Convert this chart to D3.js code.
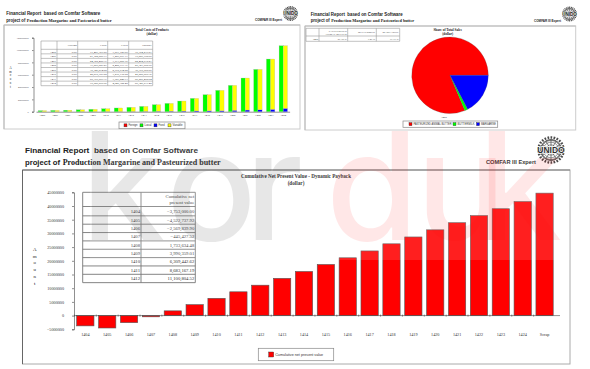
<!DOCTYPE html>
<html>
<head>
<meta charset="utf-8">
<title>Financial Report</title>
<script src="https://cdn.jsdelivr.net/npm/d3@7"></script>
<style>
    html, body { margin: 0; padding: 0; background: #fff; }
    svg { display: block; }
    .domain, .tick line { stroke: #444; stroke-width: 0.6; }
</style>
</head>
<body>
<svg id="page" width="590" height="369"></svg>
<script>
// total costs of products (dollar)
const costYears = ["1405","1406","1407","1408","1409","1410","1411","1412","1413","1414",
                   "1415","1416","1417","1418","1419","1420","1421","1422","1423","1424"];
const costForeign = costYears.map(() => 0);
const costLocal = [17487367.5, 21122889.17, 24368480.37, 31809827.27, 39146874.88, 48815787.88, 60376657.37, 70980899.96,
                   86000000, 114000000, 135000000, 173000000, 216000000, 276000000, 346000000, 427000000,
                   546000000, 686000000, 854000000, 1070000000];
const costFixed = [1093129.69, 1266091.17, 1913865.16, 2488771.37, 2775914.88, 3230718.52, 3787248.73, 4640382.48,
                   5500000, 7000000, 8500000, 10000000, 12000000, 14000000, 16000000, 22000000,
                   27000000, 32000000, 38000000, 54000000];
const costVariable = [16394237.81, 19856798, 22454615.21, 29321055.9, 36370960, 45585069.36, 56589408.64, 66340517.48,
                      80500000, 107000000, 126500000, 163000000, 204000000, 262000000, 330000000, 405000000,
                      519000000, 654000000, 816000000, 1016000000];
const costTicks = [0, 200000000, 400000000, 600000000, 800000000, 1000000000, 1200000000];
const costNames = ["Foreign", "Local", "Fixed", "Variable"];

// share of total sales
const saleNames = ["PASTEURIZED ANIMAL BUTTER", "BUTTERMILK", "MARGARINE"];
const saleShares = [81.36, 1.27, 17.37];

// cumulative net present value
const npvYears = ["1404","1405","1406","1407","1408","1409","1410","1411","1412","1413","1414",
                  "1415","1416","1417","1418","1419","1420","1421","1422","1423","1424","Scrap"];
const npvValues = [-3753000, -4522737.92, -2569839.9, -445427.52, 1733634.48, 3990359.01, 6309442.62, 8683167.19, 11100804.52,
                   13600000, 16100000, 18650000, 21100000, 23600000, 26200000, 28700000, 31300000, 33900000, 36500000,
                   39000000, 41600000, 44700000];
const npvTicks = [-5000000, 0, 5000000, 10000000, 15000000, 20000000, 25000000, 30000000, 35000000, 40000000, 45000000];

const ARIAL = "'Liberation Sans', Arial, sans-serif";
const TIMES = "'Liberation Serif', 'Times New Roman', serif";
const money = d3.format(",.2f");

const svg = d3.select("#page");

function label(g, x, y, str, size, opts) {
    opts = opts || {};
    return g.append("text")
        .attr("x", x).attr("y", y)
        .attr("font-family", opts.family || TIMES)
        .attr("font-size", size)
        .attr("font-weight", opts.bold ? "bold" : "normal")
        .attr("text-anchor", opts.anchor || "start")
        .attr("fill", opts.fill || "#222")
        .text(str);
}

function drawLogo(cx, cy, r) {
    let g = svg.append("g");
    let proj = d3.geoOrthographic().rotate([0, -90]).scale(r * 0.72).translate([cx, cy]);
    let path = d3.geoPath(proj);
    g.append("path").attr("d", path(d3.geoGraticule().step([30, 20])()))
        .attr("fill", "none").attr("stroke", "#333").attr("stroke-width", r * 0.05);
    g.append("circle").attr("cx", cx).attr("cy", cy).attr("r", r * 0.75)
        .attr("fill", "none").attr("stroke", "#333").attr("stroke-width", r * 0.06);
    // laurel wreath
    g.append("circle").attr("cx", cx).attr("cy", cy).attr("r", r * 0.9)
        .attr("fill", "none").attr("stroke", "#333").attr("stroke-width", r * 0.18)
        .attr("stroke-dasharray", `${r * 0.12} ${r * 0.1}`);
    label(g, cx, cy + r * 0.2, "UNIDO", r * 0.66, { family: ARIAL, bold: true, anchor: "middle", fill: "#111" })
        .attr("stroke", "#fff").attr("stroke-width", r * 0.1).attr("paint-order", "stroke")
        .attr("textLength", r * 1.95).attr("lengthAdjust", "spacingAndGlyphs");
}

function drawHeader(x, y1, y2, w1, w2a, w2b, size, cx, cy, r, expertWidth) {
    let g = svg.append("g");
    label(g, x, y1, "Financial Report  based on Comfar Software", size, { family: ARIAL, bold: true })
        .attr("xml:space", "preserve").attr("textLength", w1).attr("lengthAdjust", "spacingAndGlyphs");
    label(g, x, y2, "project of", size, { family: ARIAL, bold: true })
        .attr("textLength", w2a).attr("lengthAdjust", "spacingAndGlyphs");
    label(g, x + w2a + size * 0.33, y2, "Production Margarine and Pasteurized butter", size * 1.02, { bold: true })
        .attr("textLength", w2b).attr("lengthAdjust", "spacingAndGlyphs");
    label(g, cx - r - 1 - expertWidth, y2 - size * 0.12, "COMFAR III Expert", size * 0.72, { family: ARIAL, bold: true })
        .attr("textLength", expertWidth).attr("lengthAdjust", "spacingAndGlyphs");
    drawLogo(cx, cy, r);
}

function drawFrame(x, y, w, h, dark, light, width) {
    let g = svg.append("g");
    g.append("rect").attr("x", x).attr("y", y).attr("width", w).attr("height", h)
        .attr("fill", "#fff").attr("stroke", light).attr("stroke-width", width);
    g.append("path").attr("d", `M${x},${y + h}V${y}H${x + w}`)
        .attr("fill", "none").attr("stroke", dark).attr("stroke-width", width);
}

// small ruled table, columns and rows given as edge positions
function drawTable(xEdges, yEdges, rows, size, stroke, width) {
    let g = svg.append("g");
    g.selectAll("line.h").data(yEdges).enter().append("line")
        .attr("x1", xEdges[0]).attr("x2", xEdges[xEdges.length - 1])
        .attr("y1", d => d).attr("y2", d => d)
        .attr("stroke", stroke).attr("stroke-width", width);
    g.selectAll("line.v").data(xEdges).enter().append("line")
        .attr("y1", yEdges[0]).attr("y2", yEdges[yEdges.length - 1])
        .attr("x1", d => d).attr("x2", d => d)
        .attr("stroke", stroke).attr("stroke-width", width);
    rows.forEach((row, r) => {
        row.forEach((cell, c) => {
            let lines = String(cell).split("\n");
            let rowH = yEdges[r + 1] - yEdges[r];
            lines.forEach((str, i) => {
                let y = yEdges[r] + rowH / 2 + size * 0.35 + (i - (lines.length - 1) / 2) * size * 1.15;
                label(g, xEdges[c + 1] - 1, y, str, size, { anchor: "end", fill: "#333" });
            });
        });
    });
}

function drawLegend(x, y, w, h, items, size) {
    let g = svg.append("g");
    g.append("rect").attr("x", x).attr("y", y).attr("width", w).attr("height", h)
        .attr("fill", "#fff").attr("stroke", "#888").attr("stroke-width", 0.7);
    items.forEach(it => {
        g.append("rect").attr("x", it.x).attr("y", y + h / 2 - it.s / 2).attr("width", it.s).attr("height", it.s)
            .attr("fill", it.color).attr("stroke", "#333").attr("stroke-width", 0.4);
        label(g, it.x + it.s + 1.5, y + h / 2 + size * 0.36, it.name, size, { family: ARIAL, fill: "#333" })
            .attr("textLength", it.w).attr("lengthAdjust", "spacingAndGlyphs");
    });
}

function makeCosts() {
    drawHeader(6.3, 15.3, 22, 94, 19, 85, 4.5, 290.5, 13.5, 7.5, 27);
    drawFrame(4, 25, 296, 104, "#bbb", "#ccc", 1);

    let g = svg.append("g");
    label(g, 152, 30.5, "Total Costs of Products", 3.4, { bold: true, anchor: "middle" });
    label(g, 152, 34.5, "(dollar)", 3.4, { bold: true, anchor: "middle" });

    let x = d3.scaleBand().domain(costYears).range([36, 289.6]).paddingInner(0.34).paddingOuter(0.17);
    let side = d3.scaleBand().domain(["a", "b"]).range([0, x.bandwidth()]);
    let y = d3.scaleLinear().domain([0, 1200000000]).range([111.7, 37.7]);

    g.append("g").attr("transform", "translate(33.5,0)")
        .call(d3.axisLeft(y).tickValues(costTicks).tickFormat(d3.format("d")).tickSize(1.5).tickPadding(3.3))
        .call(a => a.selectAll("text").attr("font-family", TIMES).attr("font-size", 2.4).attr("fill", "#333"));
    g.append("g").attr("transform", "translate(0,111.7)")
        .call(d3.axisBottom(x).tickSize(0).tickPadding(2.5))
        .call(a => a.selectAll("text").attr("font-family", TIMES).attr("font-size", 2.8).attr("fill", "#333"));

    let stacks = [
        { col: "a", color: "#00ff00", base: costForeign, top: costLocal },
        { col: "a", color: "#ff0000", base: null, top: costForeign },
        { col: "b", color: "#0000ff", base: null, top: costFixed },
        { col: "b", color: "#ffff00", base: costFixed, top: costVariable }
    ];
    stacks.forEach(s => {
        g.append("g").selectAll("rect").data(costYears).enter().append("rect")
            .attr("x", d => x(d) + side(s.col))
            .attr("width", side.bandwidth())
            .attr("y", (d, i) => y((s.base ? s.base[i] : 0) + s.top[i]))
            .attr("height", (d, i) => y(s.base ? s.base[i] : 0) - y((s.base ? s.base[i] : 0) + s.top[i]))
            .attr("fill", s.color)
            .attr("stroke", "#aaa").attr("stroke-width", 0.25);
    });

    "Amount".split("").forEach((ch, i) => {
        label(g, 10.5, 69 + i * 3.7, ch, 3, { anchor: "middle" });
    });

    let xEdges = [41, 57, 77.7, 107.7, 128.7, 152.7];
    let yEdges = [41, 49.3].concat(d3.range(1, 9).map(i => 49.3 + i * 4.55));
    let rows = [[""].concat(["Foreign", "Local", "Fixed", "Variable"])];
    costYears.slice(0, 8).forEach((yr, i) => {
        rows.push([yr, money(costForeign[i]), money(costLocal[i]), money(costFixed[i]), money(costVariable[i])]);
    });
    drawTable(xEdges, yEdges, rows, 2.9, "#999", 0.6);

    let colors = ["#ff0000", "#00ff00", "#0000ff", "#ffff00"];
    let starts = [124, 140, 154, 168];
    let widths = [9, 7, 6, 10];
    drawLegend(119, 122, 66, 6.7, costNames.map((n, i) => ({ name: n, color: colors[i], x: starts[i], s: 3, w: widths[i] })), 2.7);
}

function makeShares() {
    drawHeader(310.7, 15.5, 22.4, 92, 19, 83, 4.5, 569.5, 14, 7.5, 27);
    drawFrame(305, 26, 270.7, 104, "#bbb", "#ccc", 1);

    let g = svg.append("g");
    label(g, 447.7, 30.5, "Share of Total Sales", 3.4, { bold: true, anchor: "middle" });
    label(g, 447.7, 34.5, "(dollar)", 3.4, { bold: true, anchor: "middle" });

    let colors = d3.scaleOrdinal().domain(saleNames).range(["#ff0000", "#00ff00", "#0000ff"]);
    let pie = d3.pie().sort(null).startAngle(Math.PI / 2).endAngle(Math.PI / 2 - 2 * Math.PI);
    let arc = d3.arc().innerRadius(0).outerRadius(38.3);
    g.append("g").attr("transform", "translate(450,75.3)")
        .selectAll("path").data(pie(saleShares)).enter().append("path")
        .attr("d", arc)
        .attr("fill", (d, i) => colors(saleNames[i]))
        .attr("stroke", "#555").attr("stroke-width", 0.25);

    label(g, 444, 118, "1405", 2.8, { anchor: "middle", fill: "#333" });

    let rows = [["", "PASTEURIZED\nANIMAL BUTTER", "BUTTERMILK", "MARGARINE"],
                ["1405"].concat(saleShares.map(d => d3.format(".2f")(d) + " %"))];
    drawTable([306, 319, 347.7, 376.3, 399.7], [28.3, 36, 41.3], rows, 2.7, "#999", 0.6);

    let swatches = [{ x: 409, w: 38 }, { x: 453, w: 17 }, { x: 476.5, w: 15 }];
    drawLegend(403, 121, 94.7, 6.3, saleNames.map((n, i) => ({
        name: n, color: colors(n), x: swatches[i].x, s: 3, w: swatches[i].w
    })), 2.6);
}

function makePayback() {
    drawHeader(25, 153, 165, 173, 35, 158, 8, 551, 150, 14, 50);
    drawFrame(22.5, 170, 547.5, 194, "#666", "#aaa", 1);

    let g = svg.append("g");
    label(g, 296, 178, "Cumulative Net Present Value - Dynamic Payback", 5.2, { bold: true, anchor: "middle" })
        .attr("textLength", 110).attr("lengthAdjust", "spacingAndGlyphs");
    label(g, 296, 184.5, "(dollar)", 5.2, { bold: true, anchor: "middle" });

    let x = d3.scaleBand().domain(npvYears).range([74.4, 555.5]).paddingInner(0.21).paddingOuter(0.105);
    let y = d3.scaleLinear().domain([-5000000, 45000000]).range([329.3, 192.3]);
    let y0 = y(0);

    g.append("g").attr("transform", "translate(74,0)")
        .call(d3.axisLeft(y).tickValues(npvTicks).tickFormat(d3.format("d")).tickSize(2).tickPadding(8))
        .call(a => a.selectAll("text").attr("font-family", TIMES).attr("font-size", 4.2).attr("fill", "#333"));
    g.append("g").selectAll("rect").data(npvYears).enter().append("rect")
        .attr("x", d => x(d))
        .attr("width", x.bandwidth())
        .attr("y", (d, i) => y(Math.max(0, npvValues[i])))
        .attr("height", (d, i) => Math.abs(y(npvValues[i]) - y0))
        .attr("fill", "#ff0000")
        .attr("stroke", "#555").attr("stroke-width", 0.6);

    // category axis sits on zero, its labels are kept below the plot
    g.append("g").attr("transform", `translate(0,${y0})`)
        .call(d3.axisBottom(x).tickSize(0).tickPadding(y(-5000000) - y0 + 4))
        .call(a => a.selectAll("text").attr("font-family", TIMES).attr("font-size", 4.2).attr("fill", "#333"))
        .call(a => a.select(".domain").attr("d", `M74,0H560`));
    g.append("g").selectAll("line").data(npvYears).enter().append("line")
        .attr("x1", d => x(d) - x.step() * 0.105).attr("x2", d => x(d) - x.step() * 0.105)
        .attr("y1", y0 - 1).attr("y2", y0 + 1)
        .attr("stroke", "#444").attr("stroke-width", 0.6);

    "Amount".split("").forEach((ch, i) => {
        label(g, 34.7, 251 + i * 6.7, ch, 5, { anchor: "middle" });
    });

    let yEdges = [192.3, 206.5].concat(d3.range(1, 10).map(i => 207.5 + i * 8.35));
    let rows = [["", "Cumulative net\npresent value"]];
    npvYears.slice(0, 9).forEach((yr, i) => rows.push([yr, money(npvValues[i])]));
    drawTable([82.7, 141, 195.3], yEdges, rows, 4.7, "#777", 0.9);

    drawLegend(258.3, 348.3, 75.4, 12.4, [{
        name: "Cumulative net present value", color: "#ff0000", x: 268.7, s: 5, w: 48
    }], 4.2);
}

function makeWatermark() {
    let g = svg.append("g").attr("pointer-events", "none");
    g.append("rect").attr("x", 90).attr("y", 136).attr("width", 480).attr("height", 124)
        .attr("fill", "#fff").attr("opacity", 0.12);
    let marks = [
        { ch: "k", x: 81, fill: "#000" },
        { ch: "o", x: 166, fill: "#000" },
        { ch: "r", x: 245, fill: "#000" },
        { ch: "d", x: 326, fill: "#ff0000" },
        { ch: "u", x: 416, fill: "#ff0000" },
        { ch: "k", x: 478, fill: "#ff0000" }
    ];
    g.selectAll("text").data(marks).enter().append("text")
        .attr("x", d => d.x).attr("y", 240)
        .attr("font-family", "Inter, 'Liberation Sans', sans-serif")
        .attr("font-size", 150)
        .attr("font-weight", 500)
        .attr("fill", d => d.fill)
        .attr("opacity", 0.09)
        .text(d => d.ch);
}

makeCosts();
makeShares();
makePayback();
makeWatermark();
</script>
</body>
</html>
